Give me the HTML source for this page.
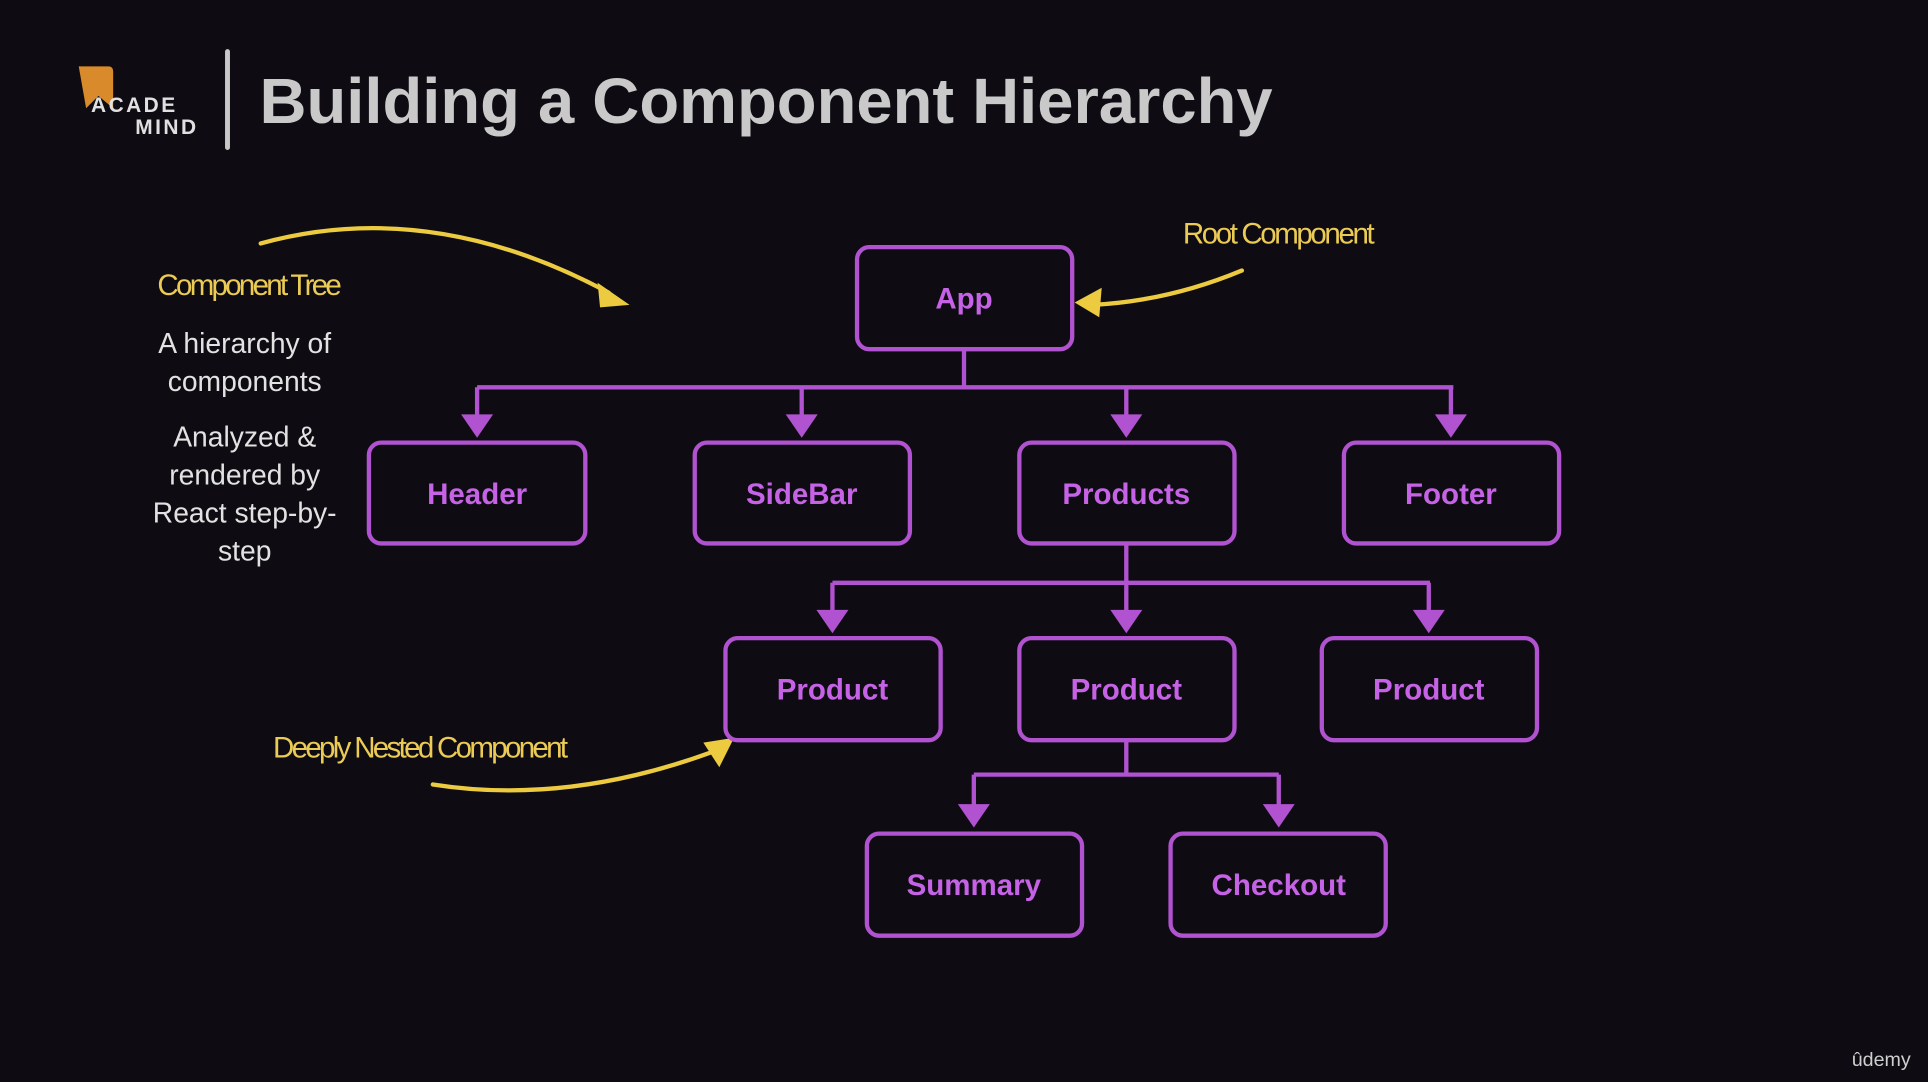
<!DOCTYPE html>
<html><head><meta charset="utf-8"><style>
html,body{margin:0;padding:0;background:#0e0c12;}
svg{display:block}
</style></head><body>
<svg width="1928" height="1082" viewBox="0 0 1568 880" xmlns="http://www.w3.org/2000/svg">
<rect width="1568" height="880" fill="#0e0c12"/>
<!-- logo -->
<path d="M64 54 L88 54 Q92 54 92 58 L92 88 L80 78 L70 88 Z" fill="#d98a2a"/>
<text x="74" y="91" font-family="Liberation Sans,sans-serif" font-weight="bold" font-size="17" fill="#e0e0e0" letter-spacing="2">ACADE</text>
<text x="110" y="109" font-family="Liberation Sans,sans-serif" font-weight="bold" font-size="17" fill="#e0e0e0" letter-spacing="2">MIND</text>
<rect x="183" y="40" width="4" height="82" rx="2" fill="#c8c8c8"/>
<text x="211" y="100" font-family="Liberation Sans,sans-serif" font-weight="bold" font-size="52" fill="#c9c9c9" textLength="824" lengthAdjust="spacingAndGlyphs">Building a Component Hierarchy</text>
<!-- left text -->
<g font-family="Liberation Sans,sans-serif" font-size="23" fill="#e2e2e2" text-anchor="middle">
<text x="199" y="287">A hierarchy of</text>
<text x="199" y="318">components</text>
<text x="199" y="363">Analyzed &amp;</text>
<text x="199" y="394">rendered by</text>
<text x="199" y="425">React step-by-</text>
<text x="199" y="456">step</text>
</g>
<g font-family="Liberation Sans Narrow,Liberation Sans,sans-serif" font-size="24" fill="#eccb55">
<text x="203" y="240" text-anchor="middle" textLength="150">Component Tree</text>
<text x="1040" y="198" text-anchor="middle" textLength="156">Root Component</text>
<text x="342" y="616" text-anchor="middle" textLength="240">Deeply Nested Component</text>
</g>
<!-- yellow arrows -->
<g stroke="#eccb40" stroke-width="3.5" fill="none" stroke-linecap="round">
<path d="M212 198 Q350 160 495 238"/>
<path d="M1010 220 Q950 245 888 248"/>
<path d="M352 638 Q460 655 578 612"/>
</g>
<g fill="#eccb40">
<polygon points="486,230 512,248 488,250"/>
<polygon points="874,246 896,234 894,258"/>
<polygon points="572,604 597,600 585,624"/>
</g>
<!-- connectors -->
<g stroke="#b152d0" stroke-width="3.5" fill="none">
<path d="M784 284 V315 M388 315 H1182 M388 315 V338 M652 315 V338 M916 315 V338 M1180 315 V338"/>
<path d="M916 442 V474 M677 474 H1163 M677 474 V497 M916 474 V497 M1162 474 V497"/>
<path d="M916 602 V630 M792 630 H1040 M792 630 V655 M1040 630 V655"/>
</g>
<g fill="#b152d0">
<polygon points="375,337 401,337 388,356"/><polygon points="639,337 665,337 652,356"/>
<polygon points="903,337 929,337 916,356"/><polygon points="1167,337 1193,337 1180,356"/>
<polygon points="664,496 690,496 677,515"/><polygon points="903,496 929,496 916,515"/>
<polygon points="1149,496 1175,496 1162,515"/>
<polygon points="779,654 805,654 792,673"/><polygon points="1027,654 1053,654 1040,673"/>
</g>
<!-- boxes -->
<g stroke="#b152d0" stroke-width="3.5" fill="none">
<rect x="697" y="201" width="175" height="83" rx="10"/>
<rect x="300" y="360" width="176" height="82" rx="10"/>
<rect x="565" y="360" width="175" height="82" rx="10"/>
<rect x="829" y="360" width="175" height="82" rx="10"/>
<rect x="1093" y="360" width="175" height="82" rx="10"/>
<rect x="590" y="519" width="175" height="83" rx="10"/>
<rect x="829" y="519" width="175" height="83" rx="10"/>
<rect x="1075" y="519" width="175" height="83" rx="10"/>
<rect x="705" y="678" width="175" height="83" rx="10"/>
<rect x="952" y="678" width="175" height="83" rx="10"/>
</g>
<g font-family="Liberation Sans,sans-serif" font-weight="bold" font-size="24" fill="#c662e6" text-anchor="middle">
<text x="784" y="251">App</text>
<text x="388" y="410">Header</text>
<text x="652" y="410">SideBar</text>
<text x="916" y="410">Products</text>
<text x="1180" y="410">Footer</text>
<text x="677" y="569">Product</text>
<text x="916" y="569">Product</text>
<text x="1162" y="569">Product</text>
<text x="792" y="728">Summary</text>
<text x="1040" y="728">Checkout</text>
</g>
<text x="1530" y="867" font-family="Liberation Sans,sans-serif" font-size="16" fill="#cfcfcf" text-anchor="middle">ûdemy</text>
</svg>
</body></html>
